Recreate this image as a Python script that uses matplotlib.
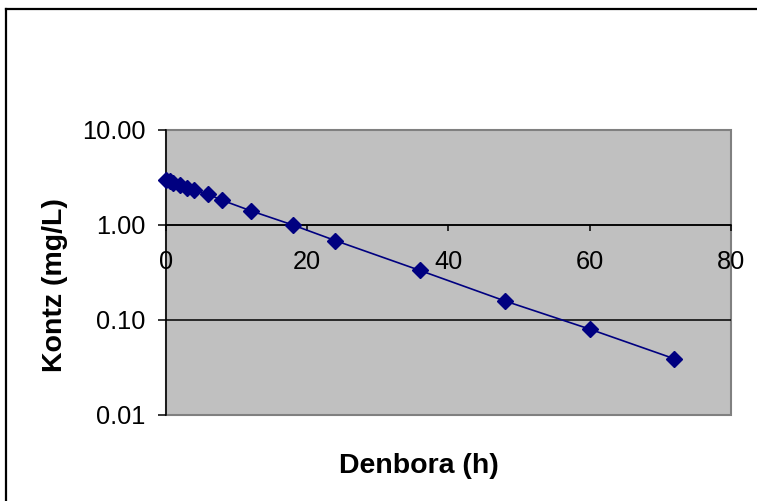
import matplotlib
matplotlib.use("Agg")
import matplotlib.pyplot as plt
from matplotlib.ticker import FixedLocator, NullLocator, FixedFormatter
from matplotlib.patches import Rectangle
from matplotlib.lines import Line2D

# data
time_h = [0, 0.5, 1, 2, 3, 4, 6, 8, 12, 18, 24, 36, 48, 60, 72]
conc_mgL = [2.95, 2.85, 2.75, 2.62, 2.45, 2.30, 2.08, 1.80, 1.40, 0.99, 0.68, 0.33, 0.158, 0.080, 0.039]
x_ticks = [0, 20, 40, 60, 80]
y_ticks = [0.01, 0.1, 1, 10]
y_tick_labels = ["0.01", "0.10", "1.00", "10.00"]
x_label = "Denbora (h)"
y_label = "Kontz (mg/L)"

plt.rcParams['font.family'] = ['Liberation Sans', 'DejaVu Sans']

W, H = 757, 501
fig = plt.figure(figsize=(W / 100, H / 100), dpi=100)
fig.patch.set_facecolor('white')

# outer chart border (left + top)
fig.add_artist(Line2D([6 / W, 6 / W], [0, 1 - 9 / H], transform=fig.transFigure, color='black', lw=1.6))
fig.add_artist(Line2D([6 / W, 1], [1 - 9 / H, 1 - 9 / H], transform=fig.transFigure, color='black', lw=1.6))

left, right, top, bottom = 166, 730.7, 129.5, 415
ax = fig.add_axes([left / W, 1 - bottom / H, (right - left) / W, (bottom - top) / H])
ax.set_facecolor('#C0C0C0')
ax.set_yscale('log')
ax.set_xlim(x_ticks[0], x_ticks[-1])
ax.set_ylim(y_ticks[0], y_ticks[-1])

# plot area border
ax.add_patch(Rectangle((0, 0), 1, 1, transform=ax.transAxes, fill=False,
                       edgecolor='#808080', lw=1.5, zorder=1, clip_on=False))
for s in ['top', 'right']:
    ax.spines[s].set_visible(False)
ax.spines['left'].set_color('black')
ax.spines['left'].set_linewidth(1.1)
ax.spines['bottom'].set_position(('data', 1))
ax.spines['bottom'].set_color('black')
ax.spines['bottom'].set_linewidth(1.1)

# gridlines
for yv in y_ticks[1:-1]:
    ax.axhline(yv, color='black', lw=1.1, zorder=1.5)

ax.yaxis.set_major_locator(FixedLocator(y_ticks))
ax.yaxis.set_major_formatter(FixedFormatter(y_tick_labels))
ax.yaxis.set_minor_locator(NullLocator())
ax.xaxis.set_major_locator(FixedLocator(x_ticks))
ax.xaxis.set_minor_locator(NullLocator())

ax.tick_params(axis='y', direction='out', length=5.5, width=1.1, pad=9, labelsize=18.3)
ax.tick_params(axis='x', direction='out', length=4, width=1.1, pad=14.5, labelsize=18.3)

ax.plot(time_h, conc_mgL, color='#000080', lw=1.2, marker='D', markersize=8,
        markerfacecolor='#000080', markeredgecolor='#000080', zorder=3, clip_on=False)

fig.text(419 / W, 1 - 466 / H, x_label, ha='center', va='center', fontsize=20.5, fontweight='bold')
fig.text(55 / W, 1 - 285 / H, y_label, ha='center', va='center', rotation=90, fontsize=20.5, fontweight='bold')

fig.savefig('out.png', dpi=100)
